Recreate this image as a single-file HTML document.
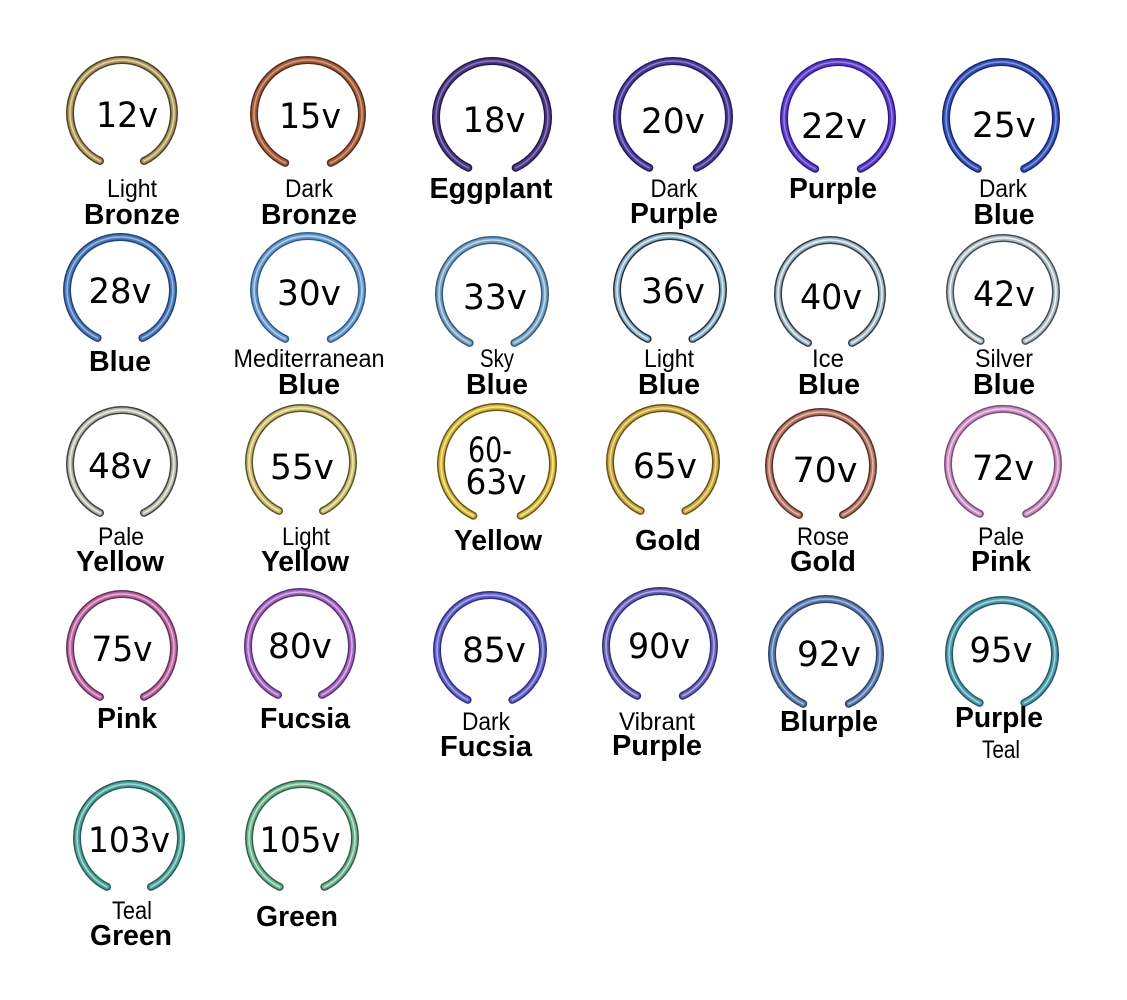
<!DOCTYPE html>
<html><head><meta charset="utf-8"><style>
html,body{margin:0;padding:0;background:#fff;}
svg{display:block;}
.n{font-family:"DejaVu Sans","Liberation Sans",sans-serif;font-size:35px;fill:#000;text-anchor:middle;}
.r{font-family:"Liberation Sans",sans-serif;font-size:25px;fill:#000;text-anchor:middle;}
.b{font-family:"Liberation Sans",sans-serif;font-size:29px;font-weight:bold;fill:#000;text-anchor:middle;}
use{fill:none;stroke-linecap:round;}
</style></head><body>
<svg width="1127" height="1000" viewBox="0 0 1127 1000" xmlns="http://www.w3.org/2000/svg">
<defs>
<path id="p12" d="M100,161 A52,53 0 1 1 144,161"/>
<path id="p15" d="M285.2,162.9 A54,54 0 1 1 330.8,162.9"/>
<path id="p18" d="M468.3,167.8 A56,56 0 1 1 515.7,167.8"/>
<path id="p20" d="M649.3,167.8 A56,56 0 1 1 696.7,167.8"/>
<path id="p22" d="M815.2,168.8 A54,56 0 1 1 860.8,168.8"/>
<path id="p25" d="M977.8,168.8 A55,56 0 1 1 1024.2,168.8"/>
<path id="p28" d="M97.6,338 A53,53 0 1 1 142.4,338"/>
<path id="p30" d="M285.2,338.9 A54,54 0 1 1 330.8,338.9"/>
<path id="p33" d="M469.6,342.9 A53,54 0 1 1 514.4,342.9"/>
<path id="p36" d="M647.6,338.9 A53,54 0 1 1 692.4,338.9"/>
<path id="p40" d="M808,342.9 A52,54 0 1 1 852,342.9"/>
<path id="p42" d="M980.6,340.9 A53,54 0 1 1 1025.4,340.9"/>
<path id="p48" d="M100,512.9 A52,54 0 1 1 144,512.9"/>
<path id="p55" d="M279,510.9 A52,54 0 1 1 323,510.9"/>
<path id="p60" d="M473.3,515.7 A56,57 0 1 1 520.7,515.7"/>
<path id="p65" d="M640.6,510.9 A53,54 0 1 1 685.4,510.9"/>
<path id="p70" d="M799,514.9 A52,54 0 1 1 843,514.9"/>
<path id="p72" d="M979.8,513.8 A55,55 0 1 1 1026.2,513.8"/>
<path id="p75" d="M100,696.9 A52,54 0 1 1 144,696.9"/>
<path id="p80" d="M278,694.9 A52,54 0 1 1 322,694.9"/>
<path id="p85" d="M467.6,699.8 A53,55 0 1 1 512.4,699.8"/>
<path id="p90" d="M637.2,695.8 A54,55 0 1 1 682.8,695.8"/>
<path id="p92" d="M803.2,703.8 A54,55 0 1 1 848.8,703.8"/>
<path id="p95" d="M979.6,702.9 A53,54 0 1 1 1024.4,702.9"/>
<path id="p103" d="M107,886.9 A52,54 0 1 1 151,886.9"/>
<path id="p105" d="M279.6,886.9 A53,54 0 1 1 324.4,886.9"/>
</defs>

<!-- rings -->
<use href="#p12" stroke="#4e4220" stroke-width="8"/><use href="#p12" stroke="#ad9762" stroke-width="5"/><use href="#p12" stroke="#e2d3a4" stroke-width="1.5"/>
<use href="#p15" stroke="#5a2c18" stroke-width="8"/><use href="#p15" stroke="#a0603e" stroke-width="5"/><use href="#p15" stroke="#d69c7e" stroke-width="1.5"/>
<use href="#p18" stroke="#24184e" stroke-width="8"/><use href="#p18" stroke="#4c3a80" stroke-width="5"/><use href="#p18" stroke="#8a7aba" stroke-width="1.5"/>
<use href="#p20" stroke="#241c62" stroke-width="8"/><use href="#p20" stroke="#483c98" stroke-width="5"/><use href="#p20" stroke="#8a80c8" stroke-width="1.5"/>
<use href="#p22" stroke="#301890" stroke-width="8"/><use href="#p22" stroke="#5c3cc0" stroke-width="5"/><use href="#p22" stroke="#9282e4" stroke-width="1.5"/>
<use href="#p25" stroke="#18247a" stroke-width="8"/><use href="#p25" stroke="#3652b2" stroke-width="5"/><use href="#p25" stroke="#8298dc" stroke-width="1.5"/>
<use href="#p28" stroke="#22427a" stroke-width="8"/><use href="#p28" stroke="#4c7ab8" stroke-width="5"/><use href="#p28" stroke="#98badf" stroke-width="1.5"/>
<use href="#p30" stroke="#305c90" stroke-width="8"/><use href="#p30" stroke="#6898c8" stroke-width="5"/><use href="#p30" stroke="#b4d2ec" stroke-width="1.5"/>
<use href="#p33" stroke="#345c7c" stroke-width="8"/><use href="#p33" stroke="#78a0c2" stroke-width="5"/><use href="#p33" stroke="#c0d8ec" stroke-width="1.5"/>
<use href="#p36" stroke="#223644" stroke-width="8"/><use href="#p36" stroke="#90b0c6" stroke-width="5"/><use href="#p36" stroke="#d8eaf4" stroke-width="1.5"/>
<use href="#p40" stroke="#323e46" stroke-width="8"/><use href="#p40" stroke="#a0b6c2" stroke-width="5"/><use href="#p40" stroke="#e6f0f6" stroke-width="1.5"/>
<use href="#p42" stroke="#464e54" stroke-width="8"/><use href="#p42" stroke="#b0bcc0" stroke-width="5"/><use href="#p42" stroke="#eef4f6" stroke-width="1.5"/>
<use href="#p48" stroke="#424240" stroke-width="8"/><use href="#p48" stroke="#b6b6aa" stroke-width="5"/><use href="#p48" stroke="#ecece2" stroke-width="1.5"/>
<use href="#p55" stroke="#5c5226" stroke-width="8"/><use href="#p55" stroke="#c8bc6e" stroke-width="5"/><use href="#p55" stroke="#f2e8b4" stroke-width="1.5"/>
<use href="#p60" stroke="#6c5612" stroke-width="8"/><use href="#p60" stroke="#d2b840" stroke-width="5"/><use href="#p60" stroke="#f8e892" stroke-width="1.5"/>
<use href="#p65" stroke="#6c5218" stroke-width="8"/><use href="#p65" stroke="#c8a842" stroke-width="5"/><use href="#p65" stroke="#f0de90" stroke-width="1.5"/>
<use href="#p70" stroke="#5c3028" stroke-width="8"/><use href="#p70" stroke="#b07868" stroke-width="5"/><use href="#p70" stroke="#e6b8a8" stroke-width="1.5"/>
<use href="#p72" stroke="#7a4c7a" stroke-width="8"/><use href="#p72" stroke="#c890c0" stroke-width="5"/><use href="#p72" stroke="#f0cce6" stroke-width="1.5"/>
<use href="#p75" stroke="#6a305c" stroke-width="8"/><use href="#p75" stroke="#b868a0" stroke-width="5"/><use href="#p75" stroke="#e8b2d6" stroke-width="1.5"/>
<use href="#p80" stroke="#5c307a" stroke-width="8"/><use href="#p80" stroke="#a068b8" stroke-width="5"/><use href="#p80" stroke="#d8b2e8" stroke-width="1.5"/>
<use href="#p85" stroke="#30308a" stroke-width="8"/><use href="#p85" stroke="#6262c2" stroke-width="5"/><use href="#p85" stroke="#aaaae6" stroke-width="1.5"/>
<use href="#p90" stroke="#30307a" stroke-width="8"/><use href="#p90" stroke="#6c62b2" stroke-width="5"/><use href="#p90" stroke="#b2aae6" stroke-width="1.5"/>
<use href="#p92" stroke="#304470" stroke-width="8"/><use href="#p92" stroke="#5c7caa" stroke-width="5"/><use href="#p92" stroke="#a2bce0" stroke-width="1.5"/>
<use href="#p95" stroke="#225c68" stroke-width="8"/><use href="#p95" stroke="#529aaa" stroke-width="5"/><use href="#p95" stroke="#a2d6e0" stroke-width="1.5"/>
<use href="#p103" stroke="#22625a" stroke-width="8"/><use href="#p103" stroke="#52a29a" stroke-width="5"/><use href="#p103" stroke="#a2dcd4" stroke-width="1.5"/>
<use href="#p105" stroke="#30624a" stroke-width="8"/><use href="#p105" stroke="#70b290" stroke-width="5"/><use href="#p105" stroke="#bce6cc" stroke-width="1.5"/>

<!-- numbers -->
<text class="n" x="127" y="127" textLength="62" lengthAdjust="spacingAndGlyphs">12v</text>
<text class="n" x="310" y="128" textLength="62" lengthAdjust="spacingAndGlyphs">15v</text>
<text class="n" x="494" y="132" textLength="63" lengthAdjust="spacingAndGlyphs">18v</text>
<text class="n" x="673" y="133" textLength="64" lengthAdjust="spacingAndGlyphs">20v</text>
<text class="n" x="834" y="138" textLength="66" lengthAdjust="spacingAndGlyphs">22v</text>
<text class="n" x="1004" y="137" textLength="64" lengthAdjust="spacingAndGlyphs">25v</text>
<text class="n" x="120" y="303" textLength="63" lengthAdjust="spacingAndGlyphs">28v</text>
<text class="n" x="309" y="305" textLength="64" lengthAdjust="spacingAndGlyphs">30v</text>
<text class="n" x="495" y="309" textLength="64" lengthAdjust="spacingAndGlyphs">33v</text>
<text class="n" x="673" y="303" textLength="64" lengthAdjust="spacingAndGlyphs">36v</text>
<text class="n" x="831" y="309" textLength="62" lengthAdjust="spacingAndGlyphs">40v</text>
<text class="n" x="1004" y="306" textLength="62" lengthAdjust="spacingAndGlyphs">42v</text>
<text class="n" x="120" y="478" textLength="64" lengthAdjust="spacingAndGlyphs">48v</text>
<text class="n" x="302" y="479" textLength="64" lengthAdjust="spacingAndGlyphs">55v</text>
<text class="n" x="490" y="462" textLength="44" lengthAdjust="spacingAndGlyphs">60-</text>
<text class="n" x="496" y="494" textLength="61" lengthAdjust="spacingAndGlyphs">63v</text>
<text class="n" x="665" y="478" textLength="64" lengthAdjust="spacingAndGlyphs">65v</text>
<text class="n" x="825" y="482" textLength="65" lengthAdjust="spacingAndGlyphs">70v</text>
<text class="n" x="1003" y="480" textLength="62" lengthAdjust="spacingAndGlyphs">72v</text>
<text class="n" x="122" y="661" textLength="61" lengthAdjust="spacingAndGlyphs">75v</text>
<text class="n" x="300" y="658" textLength="64" lengthAdjust="spacingAndGlyphs">80v</text>
<text class="n" x="494" y="662" textLength="64" lengthAdjust="spacingAndGlyphs">85v</text>
<text class="n" x="659" y="658" textLength="62" lengthAdjust="spacingAndGlyphs">90v</text>
<text class="n" x="829" y="666" textLength="64" lengthAdjust="spacingAndGlyphs">92v</text>
<text class="n" x="1001" y="662" textLength="63" lengthAdjust="spacingAndGlyphs">95v</text>
<text class="n" x="129" y="852" textLength="82" lengthAdjust="spacingAndGlyphs">103v</text>
<text class="n" x="300" y="852" textLength="81" lengthAdjust="spacingAndGlyphs">105v</text>

<!-- labels row 1 -->
<text class="r" x="132" y="197" textLength="50" lengthAdjust="spacingAndGlyphs">Light</text>
<text class="b" x="132" y="224" textLength="96" lengthAdjust="spacingAndGlyphs">Bronze</text>
<text class="r" x="309" y="197" textLength="48" lengthAdjust="spacingAndGlyphs">Dark</text>
<text class="b" x="309" y="224" textLength="96" lengthAdjust="spacingAndGlyphs">Bronze</text>
<text class="b" x="491" y="198" textLength="123" lengthAdjust="spacingAndGlyphs">Eggplant</text>
<text class="r" x="674" y="197" textLength="47" lengthAdjust="spacingAndGlyphs">Dark</text>
<text class="b" x="674" y="223" textLength="88" lengthAdjust="spacingAndGlyphs">Purple</text>
<text class="b" x="833" y="198" textLength="88" lengthAdjust="spacingAndGlyphs">Purple</text>
<text class="r" x="1003" y="197" textLength="48" lengthAdjust="spacingAndGlyphs">Dark</text>
<text class="b" x="1004" y="224" textLength="61" lengthAdjust="spacingAndGlyphs">Blue</text>

<!-- labels row 2 -->
<text class="b" x="120" y="371" textLength="62" lengthAdjust="spacingAndGlyphs">Blue</text>
<text class="r" x="309" y="367" textLength="151" lengthAdjust="spacingAndGlyphs">Mediterranean</text>
<text class="b" x="309" y="394" textLength="62" lengthAdjust="spacingAndGlyphs">Blue</text>
<text class="r" x="497" y="367" textLength="34" lengthAdjust="spacingAndGlyphs">Sky</text>
<text class="b" x="497" y="394" textLength="62" lengthAdjust="spacingAndGlyphs">Blue</text>
<text class="r" x="669" y="367" textLength="50" lengthAdjust="spacingAndGlyphs">Light</text>
<text class="b" x="669" y="394" textLength="62" lengthAdjust="spacingAndGlyphs">Blue</text>
<text class="r" x="828" y="367" textLength="32" lengthAdjust="spacingAndGlyphs">Ice</text>
<text class="b" x="829" y="394" textLength="62" lengthAdjust="spacingAndGlyphs">Blue</text>
<text class="r" x="1004" y="367" textLength="58" lengthAdjust="spacingAndGlyphs">Silver</text>
<text class="b" x="1004" y="394" textLength="62" lengthAdjust="spacingAndGlyphs">Blue</text>

<!-- labels row 3 -->
<text class="r" x="121" y="545" textLength="46" lengthAdjust="spacingAndGlyphs">Pale</text>
<text class="b" x="120" y="571" textLength="88" lengthAdjust="spacingAndGlyphs">Yellow</text>
<text class="r" x="306" y="545" textLength="48" lengthAdjust="spacingAndGlyphs">Light</text>
<text class="b" x="305" y="571" textLength="88" lengthAdjust="spacingAndGlyphs">Yellow</text>
<text class="b" x="498" y="550" textLength="88" lengthAdjust="spacingAndGlyphs">Yellow</text>
<text class="b" x="668" y="550" textLength="66" lengthAdjust="spacingAndGlyphs">Gold</text>
<text class="r" x="823" y="545" textLength="52" lengthAdjust="spacingAndGlyphs">Rose</text>
<text class="b" x="823" y="571" textLength="66" lengthAdjust="spacingAndGlyphs">Gold</text>
<text class="r" x="1001" y="545" textLength="46" lengthAdjust="spacingAndGlyphs">Pale</text>
<text class="b" x="1001" y="571" textLength="60" lengthAdjust="spacingAndGlyphs">Pink</text>

<!-- labels row 4 -->
<text class="b" x="127" y="728" textLength="60" lengthAdjust="spacingAndGlyphs">Pink</text>
<text class="b" x="305" y="728" textLength="90" lengthAdjust="spacingAndGlyphs">Fucsia</text>
<text class="r" x="486" y="730" textLength="48" lengthAdjust="spacingAndGlyphs">Dark</text>
<text class="b" x="486" y="756" textLength="92" lengthAdjust="spacingAndGlyphs">Fucsia</text>
<text class="r" x="657" y="730" textLength="76" lengthAdjust="spacingAndGlyphs">Vibrant</text>
<text class="b" x="657" y="755" textLength="90" lengthAdjust="spacingAndGlyphs">Purple</text>
<text class="b" x="829" y="731" textLength="98" lengthAdjust="spacingAndGlyphs">Blurple</text>
<text class="b" x="999" y="727" textLength="88" lengthAdjust="spacingAndGlyphs">Purple</text>
<text class="r" x="1001" y="758" textLength="38" lengthAdjust="spacingAndGlyphs">Teal</text>

<!-- labels row 5 -->
<text class="r" x="132" y="919" textLength="40" lengthAdjust="spacingAndGlyphs">Teal</text>
<text class="b" x="131" y="945" textLength="82" lengthAdjust="spacingAndGlyphs">Green</text>
<text class="b" x="297" y="926" textLength="82" lengthAdjust="spacingAndGlyphs">Green</text>
</svg>
</body></html>
